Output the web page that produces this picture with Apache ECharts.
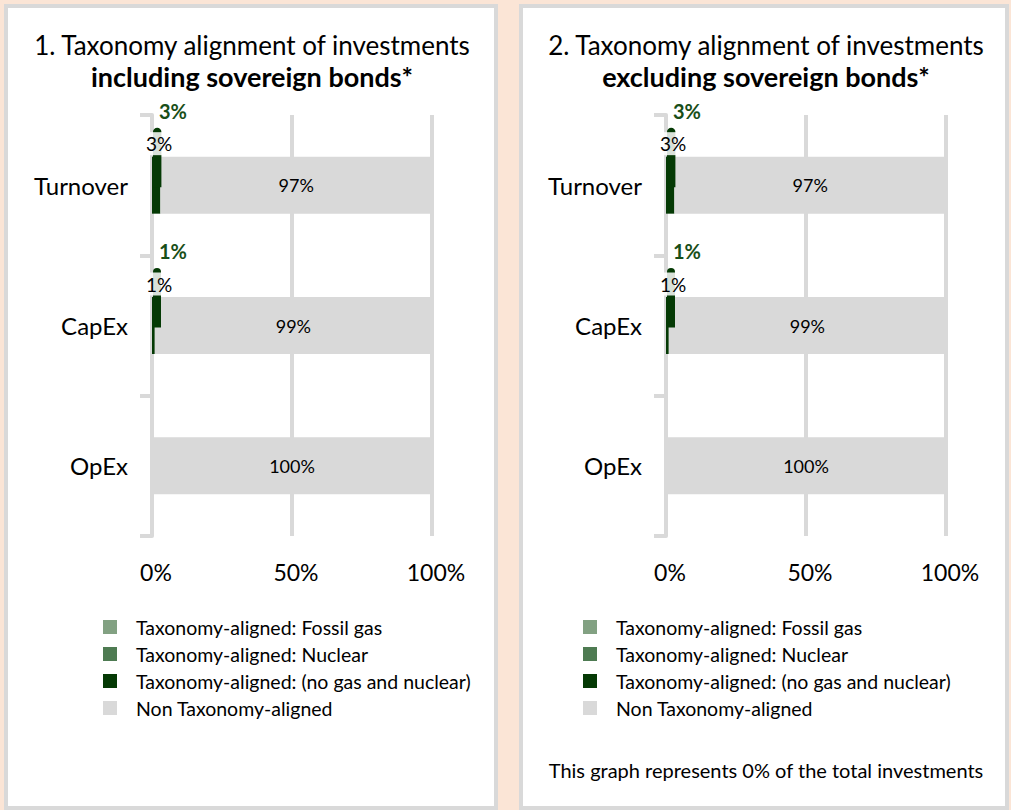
<!DOCTYPE html>
<html><head><meta charset="utf-8">
<script src="https://cdn.jsdelivr.net/npm/echarts@6/dist/echarts.min.js"></script>
<style>html,body{margin:0;padding:0;background:#FBE5D6}#c{width:1011px;height:810px}</style>
</head><body><div id="c"></div>
<script>
const categories = ['Turnover', 'CapEx', 'OpEx'];
const seriesNames = ['Taxonomy-aligned: Fossil gas', 'Taxonomy-aligned: Nuclear', 'Taxonomy-aligned: (no gas and nuclear)', 'Non Taxonomy-aligned'];
const inclFossilGas = [0, 0, 0];
const inclNuclear = [0, 0, 0];
const inclAligned = [3, 1, 0];
const inclNonAligned = [97, 99, 100];
const exclFossilGas = [0, 0, 0];
const exclNuclear = [0, 0, 0];
const exclAligned = [3, 1, 0];
const exclNonAligned = [97, 99, 100];
const xTicks = [0, 50, 100];
const title1 = ['1. Taxonomy alignment of investments', 'including sovereign bonds*'];
const title2 = ['2. Taxonomy alignment of investments', 'excluding sovereign bonds*'];
const footnote = 'This graph represents 0% of the total investments';

const FONT = 'Lato';
const colors = ['#82A182', '#4E7B52', '#053A05', '#D9D9D9'];
const BARW = 57;

function stubRender(params, api) {
  const v = api.value(0), ci = api.value(1);
  const c0 = api.coord([0, ci]);
  const c1 = api.coord([v, ci]);
  const barTop = c0[1] - BARW / 2;
  const w = Math.max(c1[0] - c0[0], 8);
  const x = c0[0] + 1;
  return {
    type: 'group',
    children: [
      { type: 'rect', shape: { x: x, y: barTop - 29, width: w, height: 29 + BARW / 2 + 2, r: [w / 2, w / 2, 0, 0] },
        style: { fill: colors[2] } },
      { type: 'text', x: x + 6, y: barTop - 13,
        style: { text: v + '%', font: '19px ' + FONT, fill: '#000', align: 'center', verticalAlign: 'middle',
          backgroundColor: 'rgba(255,255,255,0.85)', padding: [2, 0] } },
      { type: 'text', x: x + 20, y: barTop - 46,
        style: { text: v + '%', font: 'bold 20px ' + FONT, fill: '#184E18', align: 'center', verticalAlign: 'middle' } }
    ]
  };
}

function panelSeries(idx, gas, nuc, al, non) {
  const vals = [gas, nuc, al, non];
  const s = vals.map((d, k) => ({
    name: seriesNames[k], type: 'bar', stack: 'p' + idx, xAxisIndex: idx, yAxisIndex: idx,
    data: d, barWidth: BARW, itemStyle: { color: colors[k] }, z: 3,
    label: k === 3 ? { show: true, position: 'inside', formatter: p => p.value + '%', fontSize: 18, fontFamily: FONT, color: '#000' } : { show: false }
  }));
  s.push({
    name: 'stub' + idx, type: 'custom', xAxisIndex: idx, yAxisIndex: idx, clip: false, z: 5,
    encode: { x: 0, y: 1 }, renderItem: stubRender,
    data: al.map((v, i) => [v, i]).filter(d => d[0] > 0)
  });
  return s;
}

function xAxis(idx) {
  return {
    type: 'value', gridIndex: idx, min: xTicks[0], max: xTicks[xTicks.length - 1], interval: xTicks[1] - xTicks[0],
    axisLine: { show: false }, axisTick: { show: false },
    splitLine: { show: true, lineStyle: { color: '#D9D9D9', width: 4 } },
    axisLabel: { formatter: '{value}%', fontSize: 23, fontFamily: FONT, color: '#000', margin: 24, padding: [0, 0, 0, 8] }
  };
}
function yAxis(idx) {
  return {
    type: 'category', gridIndex: idx, data: categories, inverse: true,
    axisLine: { show: true, lineStyle: { color: '#D9D9D9', width: 4 } },
    axisTick: { show: true, length: 12, lineStyle: { color: '#D9D9D9', width: 4 } },
    axisLabel: { fontSize: 24, fontFamily: FONT, color: '#000', margin: 24 }
  };
}
function legend(left) {
  return {
    orient: 'vertical', left: left, top: 617, itemWidth: 14, itemHeight: 14, itemGap: 7,
    icon: 'rect', selectedMode: false, data: seriesNames, padding: 0,
    textStyle: { fontSize: 19.5, fontFamily: FONT, color: '#000', padding: [0, 0, 0, 14] }
  };
}
function tText(x, y, text, bold, size) {
  return { type: 'text', x: x, y: y, z: 10,
    style: { text: text, font: (bold ? 'bold ' : '') + size + 'px ' + FONT, fill: '#000', align: 'center', verticalAlign: 'middle' } };
}

const chart = echarts.init(document.getElementById('c'), null, { renderer: 'svg' });
chart.setOption({
  backgroundColor: '#FBE5D6',
  animation: false,
  graphic: [
    { type: 'rect', shape: { x: 6, y: 6, width: 490, height: 802 }, style: { fill: '#fff', stroke: '#D9D9D9', lineWidth: 4 }, z: -10 },
    { type: 'rect', shape: { x: 521, y: 6, width: 486, height: 802 }, style: { fill: '#fff', stroke: '#D9D9D9', lineWidth: 4 }, z: -10 },
    tText(252, 45, title1[0], false, 26),
    tText(252, 76, title1[1], true, 27),
    tText(766, 45, title2[0], false, 26),
    tText(766, 76, title2[1], true, 27),
    tText(766, 770, footnote, false, 20)
  ],
  grid: [
    { left: 152, top: 115, width: 280, height: 421 },
    { left: 666, top: 115, width: 280, height: 421 }
  ],
  xAxis: [xAxis(0), xAxis(1)],
  yAxis: [yAxis(0), yAxis(1)],
  legend: [legend(103), legend(583)],
  series: panelSeries(0, inclFossilGas, inclNuclear, inclAligned, inclNonAligned)
    .concat(panelSeries(1, exclFossilGas, exclNuclear, exclAligned, exclNonAligned))
});
</script></body></html>
